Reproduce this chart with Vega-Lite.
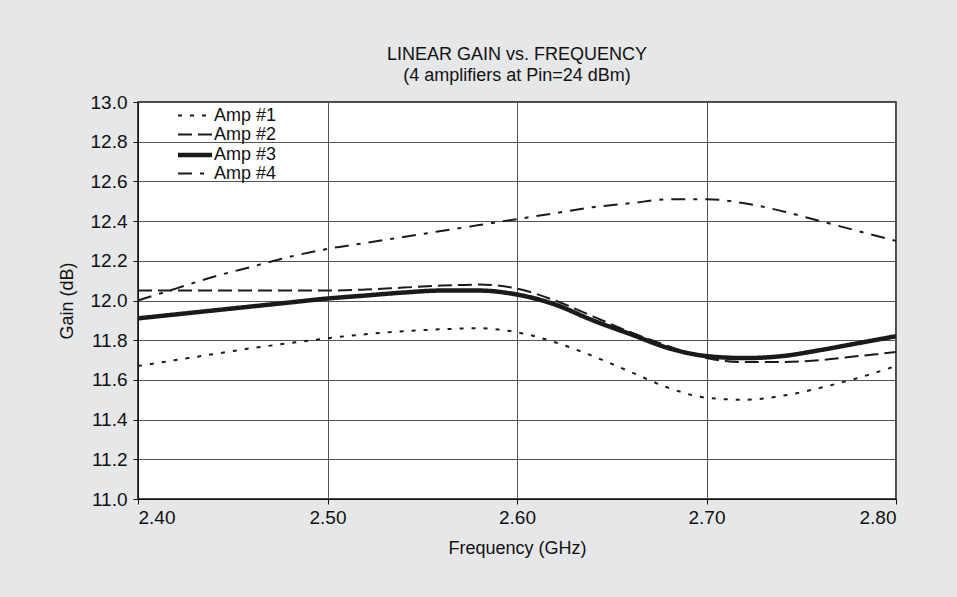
{
  "$schema": "https://vega.github.io/schema/vega-lite/v6.json",
  "width": 758,
  "height": 397,
  "autosize": "none",
  "padding": {"left": 138, "top": 102, "right": 61, "bottom": 98},
  "background": "#e6e7e8",
  "title": {
    "text": ["LINEAR GAIN vs. FREQUENCY", "(4 amplifiers at Pin=24 dBm)"],
    "font": "Liberation Sans",
    "fontSize": 18,
    "fontWeight": "normal",
    "color": "#111111",
    "lineHeight": 21,
    "offset": 8,
    "anchor": "middle"
  },
  "data": {
    "values": [
      {"f": 2.40, "amp": "Amp #1", "g": 11.67},
      {"f": 2.42, "amp": "Amp #1", "g": 11.70},
      {"f": 2.44, "amp": "Amp #1", "g": 11.73},
      {"f": 2.46, "amp": "Amp #1", "g": 11.76},
      {"f": 2.48, "amp": "Amp #1", "g": 11.785},
      {"f": 2.50, "amp": "Amp #1", "g": 11.81},
      {"f": 2.52, "amp": "Amp #1", "g": 11.83},
      {"f": 2.54, "amp": "Amp #1", "g": 11.845},
      {"f": 2.56, "amp": "Amp #1", "g": 11.855},
      {"f": 2.58, "amp": "Amp #1", "g": 11.86},
      {"f": 2.60, "amp": "Amp #1", "g": 11.84},
      {"f": 2.62, "amp": "Amp #1", "g": 11.79},
      {"f": 2.64, "amp": "Amp #1", "g": 11.72},
      {"f": 2.66, "amp": "Amp #1", "g": 11.64},
      {"f": 2.68, "amp": "Amp #1", "g": 11.56},
      {"f": 2.70, "amp": "Amp #1", "g": 11.51},
      {"f": 2.72, "amp": "Amp #1", "g": 11.50},
      {"f": 2.74, "amp": "Amp #1", "g": 11.52},
      {"f": 2.76, "amp": "Amp #1", "g": 11.56},
      {"f": 2.78, "amp": "Amp #1", "g": 11.61},
      {"f": 2.80, "amp": "Amp #1", "g": 11.67},
      {"f": 2.40, "amp": "Amp #2", "g": 12.05},
      {"f": 2.42, "amp": "Amp #2", "g": 12.05},
      {"f": 2.44, "amp": "Amp #2", "g": 12.05},
      {"f": 2.46, "amp": "Amp #2", "g": 12.05},
      {"f": 2.48, "amp": "Amp #2", "g": 12.05},
      {"f": 2.50, "amp": "Amp #2", "g": 12.05},
      {"f": 2.52, "amp": "Amp #2", "g": 12.055},
      {"f": 2.54, "amp": "Amp #2", "g": 12.065},
      {"f": 2.56, "amp": "Amp #2", "g": 12.075},
      {"f": 2.58, "amp": "Amp #2", "g": 12.08},
      {"f": 2.60, "amp": "Amp #2", "g": 12.06},
      {"f": 2.62, "amp": "Amp #2", "g": 12.00},
      {"f": 2.64, "amp": "Amp #2", "g": 11.92},
      {"f": 2.66, "amp": "Amp #2", "g": 11.84},
      {"f": 2.68, "amp": "Amp #2", "g": 11.77},
      {"f": 2.70, "amp": "Amp #2", "g": 11.71},
      {"f": 2.72, "amp": "Amp #2", "g": 11.69},
      {"f": 2.74, "amp": "Amp #2", "g": 11.69},
      {"f": 2.76, "amp": "Amp #2", "g": 11.70},
      {"f": 2.78, "amp": "Amp #2", "g": 11.72},
      {"f": 2.80, "amp": "Amp #2", "g": 11.74},
      {"f": 2.40, "amp": "Amp #3", "g": 11.91},
      {"f": 2.42, "amp": "Amp #3", "g": 11.93},
      {"f": 2.44, "amp": "Amp #3", "g": 11.95},
      {"f": 2.46, "amp": "Amp #3", "g": 11.97},
      {"f": 2.48, "amp": "Amp #3", "g": 11.99},
      {"f": 2.50, "amp": "Amp #3", "g": 12.01},
      {"f": 2.52, "amp": "Amp #3", "g": 12.025},
      {"f": 2.54, "amp": "Amp #3", "g": 12.04},
      {"f": 2.56, "amp": "Amp #3", "g": 12.05},
      {"f": 2.58, "amp": "Amp #3", "g": 12.05},
      {"f": 2.60, "amp": "Amp #3", "g": 12.03},
      {"f": 2.62, "amp": "Amp #3", "g": 11.98},
      {"f": 2.64, "amp": "Amp #3", "g": 11.90},
      {"f": 2.66, "amp": "Amp #3", "g": 11.83},
      {"f": 2.68, "amp": "Amp #3", "g": 11.76},
      {"f": 2.70, "amp": "Amp #3", "g": 11.72},
      {"f": 2.72, "amp": "Amp #3", "g": 11.71},
      {"f": 2.74, "amp": "Amp #3", "g": 11.72},
      {"f": 2.76, "amp": "Amp #3", "g": 11.75},
      {"f": 2.78, "amp": "Amp #3", "g": 11.785},
      {"f": 2.80, "amp": "Amp #3", "g": 11.82},
      {"f": 2.40, "amp": "Amp #4", "g": 12.00},
      {"f": 2.42, "amp": "Amp #4", "g": 12.06},
      {"f": 2.44, "amp": "Amp #4", "g": 12.12},
      {"f": 2.46, "amp": "Amp #4", "g": 12.17},
      {"f": 2.48, "amp": "Amp #4", "g": 12.22},
      {"f": 2.50, "amp": "Amp #4", "g": 12.26},
      {"f": 2.52, "amp": "Amp #4", "g": 12.29},
      {"f": 2.54, "amp": "Amp #4", "g": 12.32},
      {"f": 2.56, "amp": "Amp #4", "g": 12.35},
      {"f": 2.58, "amp": "Amp #4", "g": 12.38},
      {"f": 2.60, "amp": "Amp #4", "g": 12.41},
      {"f": 2.62, "amp": "Amp #4", "g": 12.44},
      {"f": 2.64, "amp": "Amp #4", "g": 12.47},
      {"f": 2.66, "amp": "Amp #4", "g": 12.49},
      {"f": 2.68, "amp": "Amp #4", "g": 12.51},
      {"f": 2.70, "amp": "Amp #4", "g": 12.51},
      {"f": 2.72, "amp": "Amp #4", "g": 12.49},
      {"f": 2.74, "amp": "Amp #4", "g": 12.45},
      {"f": 2.76, "amp": "Amp #4", "g": 12.40},
      {"f": 2.78, "amp": "Amp #4", "g": 12.35},
      {"f": 2.80, "amp": "Amp #4", "g": 12.30}
    ]
  },
  "mark": {"type": "line", "interpolate": "monotone", "color": "#1a1a1a", "strokeCap": "butt"},
  "encoding": {
    "x": {
      "field": "f",
      "type": "quantitative",
      "scale": {"domain": [2.4, 2.8], "nice": false, "zero": false},
      "axis": {"values": [2.4, 2.5, 2.6, 2.7, 2.8], "format": ".2f", "title": "Frequency (GHz)", "labelPadding": 4, "titlePadding": 12}
    },
    "y": {
      "field": "g",
      "type": "quantitative",
      "scale": {"domain": [11, 13], "nice": false, "zero": false},
      "axis": {"values": [11, 11.2, 11.4, 11.6, 11.8, 12, 12.2, 12.4, 12.6, 12.8, 13], "format": ".1f", "title": "Gain (dB)", "labelPadding": 6, "titlePadding": 14}
    },
    "strokeDash": {
      "field": "amp",
      "type": "nominal",
      "scale": {"domain": ["Amp #1", "Amp #2", "Amp #3", "Amp #4"], "range": [[4, 8], [14, 6], [1, 0], [14, 8, 4, 8]]},
      "legend": {"title": null}
    },
    "strokeWidth": {
      "field": "amp",
      "type": "nominal",
      "scale": {"type": "ordinal", "domain": ["Amp #1", "Amp #2", "Amp #3", "Amp #4"], "range": [2, 2, 4.5, 2]},
      "legend": {"title": null}
    }
  },
  "config": {
    "view": {"stroke": "#111111", "strokeWidth": 1.5, "fill": "#ffffff"},
    "font": "Liberation Sans",
    "axis": {
      "labelFont": "Liberation Sans",
      "labelFontSize": 19,
      "labelColor": "#111111",
      "titleFont": "Liberation Sans",
      "titleFontSize": 18,
      "titleFontWeight": "normal",
      "titleColor": "#111111",
      "domainColor": "#111111",
      "tickColor": "#111111",
      "tickSize": 5,
      "gridColor": "#555555",
      "gridWidth": 1,
      "gridOpacity": 1
    },
    "legend": {
      "orient": "none",
      "legendX": 46,
      "legendY": 4,
      "symbolType": "M-2,0H2",
      "symbolSize": 289,
      "symbolStrokeColor": "#1a1a1a",
      "symbolFillColor": "transparent",
      "labelFont": "Liberation Sans",
      "labelFontSize": 18,
      "labelColor": "#111111",
      "labelOffset": 8,
      "rowPadding": -4,
      "padding": 0
    }
  }
}
